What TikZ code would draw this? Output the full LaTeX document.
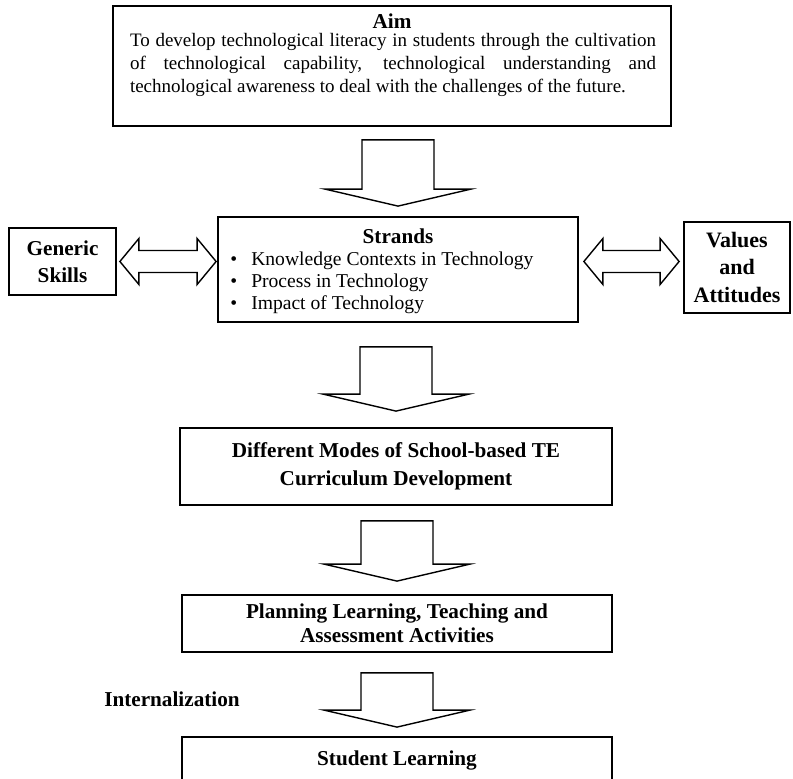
\documentclass[tikz,border=0pt]{standalone}
\usepackage{fontspec}
\setmainfont{Liberation Serif}
\usetikzlibrary{calc}

\tikzset{
    box/.style={draw, line width=0.9pt, inner sep=0pt, align=center,
        font=\bfseries\fontsize{10.6}{13.5}\selectfont},
    fatarrow/.style={draw, line width=0.7pt, line join=miter},
    heading/.style={inner sep=0pt, font=\bfseries\fontsize{10.6}{12}\selectfont},
}

\begin{document}
\begin{tikzpicture}[x=0.5pt, y=-0.5pt]
    \clip (0,0) rectangle (793,779);
    % aim
    \node[box, minimum width=279pt, minimum height=60pt] (aim) at (392,66) {};
    \node[heading, anchor=base] (aimtitle) at (392,29) {Aim};
    \node[text width=263pt, align=justify, inner sep=0pt, anchor=north,
        font=\fontsize{9.5}{11.6}\selectfont] (aimtext) at (393,33)
        {To develop technological literacy in students through the cultivation\linebreak
         of technological capability, technological understanding and\linebreak
         technological awareness to deal with the challenges of the future.};
    % strands row
    \node[box, minimum width=180pt, minimum height=52.5pt] (strands) at (398,269.5) {};
    \node[heading, anchor=base] (strandstitle) at (398,244) {Strands};
    \node[inner sep=0pt, anchor=north west, align=left,
        font=\fontsize{9.8}{10.9}\selectfont] (strandslist) at (230,252)
        {\textbullet\hspace{7pt}Knowledge Contexts in Technology\\
         \textbullet\hspace{7pt}Process in Technology\\
         \textbullet\hspace{7pt}Impact of Technology};
    \node[box, minimum width=53.5pt, minimum height=33.5pt] (gen) at (62.5,261.5) {Generic\\Skills};
    \node[box, minimum width=53pt, minimum height=45.5pt,
        font=\bfseries\fontsize{11}{13.6}\selectfont] (values) at (737,267.5) {Values\\and\\Attitudes};
    % lower boxes
    \node[box, minimum width=216pt, minimum height=38.5pt,
        font=\bfseries\fontsize{10.6}{14}\selectfont] (modes) at (396,466.5)
        {Different Modes of School-based TE\\Curriculum Development};
    \node[box, minimum width=215pt, minimum height=28.5pt,
        font=\bfseries\fontsize{10.6}{12.2}\selectfont] (plan) at (397,623.5)
        {Planning Learning, Teaching and\\Assessment Activities};
    \node[box, minimum width=215pt, minimum height=53pt] (learn) at (397,790) {};
    \node[heading] (learntext) at (397,760) {Student Learning};
    \node[heading] (intern) at (172,699) {Internalization};
    % block arrows down
    \foreach \src/\dst/\gt/\gb in {aim/strands/13/10, strands/modes/24/16, modes/plan/15/13, plan/learn/20/9} {
        \draw[fatarrow] let \p1 = ($(\src.south)+(0,\gt)$), \p2 = ($(\dst.north)+(0,-\gb)$) in
            (\x2-18pt,\y1) -- (\x2-18pt,\y2+8.5pt) -- (\x2-36.5pt,\y2+8.5pt) -- (\x2,\y2)
            -- (\x2+36.5pt,\y2+8.5pt) -- (\x2+18pt,\y2+8.5pt) -- (\x2+18pt,\y1) -- cycle;
    }
    % double arrows
    \draw[fatarrow] let \p1 = (gen.east), \p2 = (strands.west) in
        (\x1+1.5pt,\y1) -- (\x1+11pt,\y1+11.5pt) -- (\x1+11pt,\y1+5.5pt)
        -- (\x2-10pt,\y1+5.5pt) -- (\x2-10pt,\y1+11.5pt) -- (\x2-0.5pt,\y1)
        -- (\x2-10pt,\y1-11.5pt) -- (\x2-10pt,\y1-5.5pt) -- (\x1+11pt,\y1-5.5pt)
        -- (\x1+11pt,\y1-11.5pt) -- cycle;
    \draw[fatarrow] let \p1 = (strands.east), \p2 = (values.west), \p3 = (gen.east) in
        (\x1+2.5pt,\y3) -- (\x1+12pt,\y3+11.5pt) -- (\x1+12pt,\y3+5.5pt)
        -- (\x2-11.5pt,\y3+5.5pt) -- (\x2-11.5pt,\y3+11.5pt) -- (\x2-2pt,\y3)
        -- (\x2-11.5pt,\y3-11.5pt) -- (\x2-11.5pt,\y3-5.5pt) -- (\x1+12pt,\y3-5.5pt)
        -- (\x1+12pt,\y3-11.5pt) -- cycle;
\end{tikzpicture}
\end{document}
